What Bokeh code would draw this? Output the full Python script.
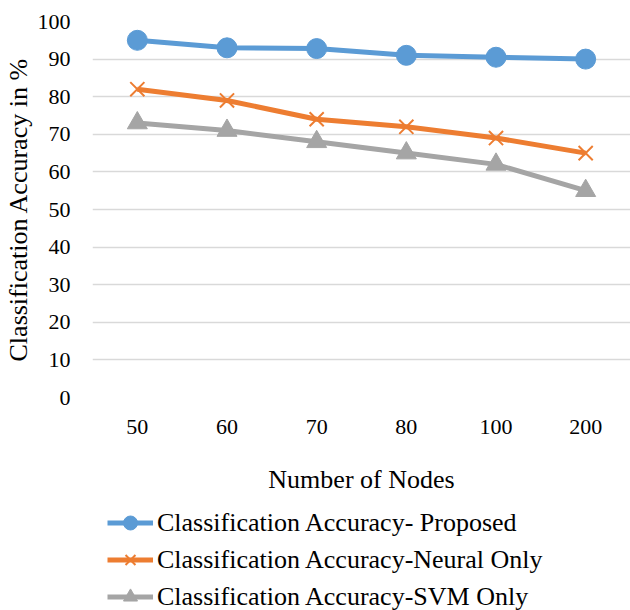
from bokeh.plotting import figure
from bokeh.layouts import column
from bokeh.models import Range1d, Legend, LegendItem, FixedTicker
from bokeh.embed import file_html
from bokeh.resources import INLINE

nodes = ["50", "60", "70", "80", "100", "200"]
proposed = [95, 93, 92.8, 91, 90.5, 90]
neural = [82, 79, 74, 72, 69, 65]
svm = [73, 71, 68, 65, 62, 55]
y_ticks = [0, 10, 20, 30, 40, 50, 60, 70, 80, 90, 100]
series_names = ["Classification Accuracy- Proposed",
                "Classification Accuracy-Neural Only",
                "Classification Accuracy-SVM Only"]

FONT = "Liberation Serif"
blue, orange, gray = "#5b9bd5", "#ed7d31", "#a5a5a5"

p = figure(x_range=nodes, y_range=Range1d(0, 100),
           width=630, height=505,
           output_backend="svg", toolbar_location=None,
           min_border_left=92, min_border_right=0, min_border_top=21, min_border_bottom=108)
p.outline_line_color = None

p.yaxis.ticker = FixedTicker(ticks=y_ticks)
p.yaxis.axis_line_color = None
p.yaxis.major_tick_line_color = None
p.yaxis.minor_tick_line_color = None
p.yaxis.major_label_text_font = FONT
p.yaxis.major_label_text_font_size = "22px"
p.yaxis.major_label_text_color = "#000000"
p.yaxis.major_label_standoff = 16
p.yaxis.axis_label = "Classification Accuracy in %"
p.yaxis.axis_label_text_font = FONT
p.yaxis.axis_label_text_font_size = "26px"
p.yaxis.axis_label_text_font_style = "normal"
p.yaxis.axis_label_text_color = "#000000"
p.yaxis.axis_label_standoff = 2

p.xaxis.axis_line_color = None
p.xaxis.major_tick_line_color = None
p.xaxis.major_label_text_font = FONT
p.xaxis.major_label_text_font_size = "22px"
p.xaxis.major_label_text_color = "#000000"
p.xaxis.major_label_standoff = 16
p.xaxis.axis_label = "Number of Nodes"
p.xaxis.axis_label_text_font = FONT
p.xaxis.axis_label_text_font_size = "26px"
p.xaxis.axis_label_text_font_style = "normal"
p.xaxis.axis_label_text_color = "#000000"
p.xaxis.axis_label_standoff = 28

p.xgrid.grid_line_color = None
p.ygrid.grid_line_color = "#d9d9d9"
p.ygrid.grid_line_width = 1.5

p.line(nodes, proposed, line_color=blue, line_width=5)
p.scatter(nodes, proposed, marker="circle", size=20, fill_color=blue, line_color=blue)
p.line(nodes, neural, line_color=orange, line_width=5)
p.scatter(nodes, neural, marker="x", size=20, line_color=orange, line_width=2)
p.line(nodes, svm, line_color=gray, line_width=5)
p.scatter(nodes, svm, marker="triangle", size=20, fill_color=gray, line_color=gray)

# legend figure below the chart (its swatch renderers sit outside the visible range)
q = figure(width=630, height=105, x_range=Range1d(0, 1), y_range=Range1d(0, 1),
           output_backend="svg", toolbar_location=None,
           min_border_left=0, min_border_right=0, min_border_top=0, min_border_bottom=0)
q.outline_line_color = None
q.axis.visible = False
q.grid.visible = False
hx, hy = [-10, -9], [-10, -10]
ql1 = q.line(hx, hy, line_color=blue, line_width=5)
qs1 = q.scatter(hx, hy, marker="circle", size=14, fill_color=blue, line_color=blue)
ql2 = q.line(hx, hy, line_color=orange, line_width=5)
qs2 = q.scatter(hx, hy, marker="x", size=14, line_color=orange, line_width=2)
ql3 = q.line(hx, hy, line_color=gray, line_width=5)
qs3 = q.scatter(hx, hy, marker="triangle", size=14, fill_color=gray, line_color=gray)

legend = Legend(items=[
    LegendItem(label=series_names[0], renderers=[ql1, qs1]),
    LegendItem(label=series_names[1], renderers=[ql2, qs2]),
    LegendItem(label=series_names[2], renderers=[ql3, qs3]),
], orientation="vertical", location=(15, -4))
legend.label_text_font = FONT
legend.label_text_font_size = "26px"
legend.label_text_color = "#000000"
legend.glyph_width = 46
legend.glyph_height = 35
legend.label_height = 26
legend.label_standoff = 4
legend.spacing = 2
legend.padding = 0
legend.margin = 0
legend.border_line_color = None
legend.background_fill_alpha = 0
q.add_layout(legend, "center")

layout = column(p, q, spacing=0)
open("out.html", "w").write(file_html(layout, INLINE))
